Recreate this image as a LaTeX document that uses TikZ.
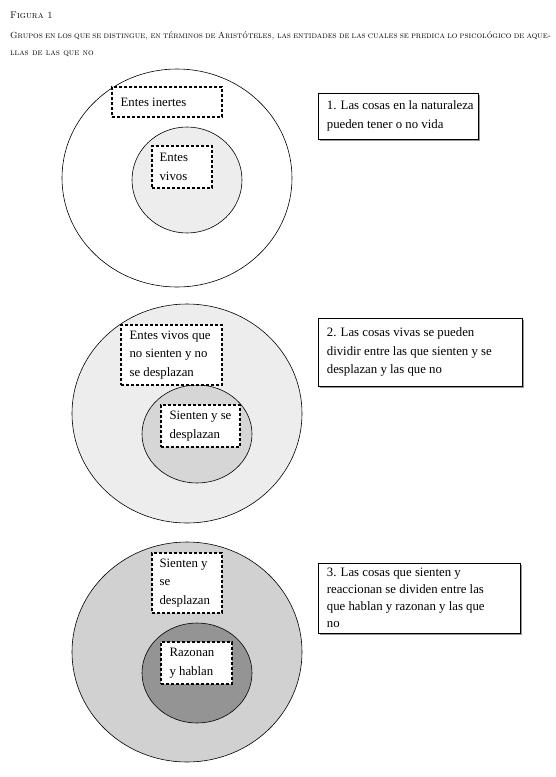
\documentclass[tikz,border=0pt]{standalone}
\usepackage{fontspec}
\newfontfamily\boxfont{Liberation Serif}
\usetikzlibrary{shadows,calc}
\begin{document}
\begin{tikzpicture}[x=1pt,y=-1pt,
  ring/.style={draw=black, line width=0.6pt},
  dbox/.style={draw=black, fill=white, line width=1.3pt, dash pattern=on 3.2pt off 1.8pt, inner sep=0pt},
  nbox/.style={draw=black, fill=white, line width=0.7pt, inner sep=0pt,
    drop shadow={shadow xshift=1.6pt, shadow yshift=-1.6pt, fill=black!40, opacity=1}},
  tx/.style={anchor=west, align=left, inner sep=0pt, font=\boxfont\fontsize{12.8}{18.5}\selectfont},
  ttl/.style={anchor=base west, inner sep=0pt, font=\fontsize{8.85}{12}\selectfont\scshape}
]
\useasboundingbox (0,0) rectangle (555,777);
% title
\node[ttl, font=\fontsize{9.6}{12}\selectfont\scshape] (t1) at (10,18) {Figura 1};
\node[ttl] (t2) at (10,38) {\makebox[535pt][s]{Grupos en los que se distingue, en términos de Aristóteles, las entidades de las cuales se predica lo psicológico de aque-}};
\node[ttl] (t3) at (10,55) {llas de las que no};

% panel 1
\draw[ring, fill=white] (177,178) ellipse [x radius=115pt, y radius=109pt];
\draw[ring, fill=black!7] (187,180) ellipse [x radius=55pt, y radius=53pt];
\node[dbox, minimum width=110pt, minimum height=30pt] (a1) at (167,102) {};
\node[tx] (a1t) at ($(a1.west)+(9,0)$) {Entes inertes};
\node[dbox, minimum width=60pt, minimum height=42pt] (a2) at (182,167) {};
\node[tx] (a2t) at ($(a2.west)+(8,0)$) {Entes\\vivos};
\node[nbox, minimum width=160pt, minimum height=46pt] (r1) at (398,116) {};
\node[tx] (r1t) at ($(r1.west)+(9,0)$) {1. Las cosas en la naturaleza\\pueden tener o no vida};

% panel 2
\draw[ring, fill=black!7] (187,413.5) ellipse [x radius=115pt, y radius=109.5pt];
\draw[ring, fill=black!16] (197,434) ellipse [x radius=55pt, y radius=49pt];
\node[dbox, minimum width=101pt, minimum height=60pt] (b1) at (171.5,355) {};
\node[tx] (b1t) at ($(b1.west)+(9,0)$) {Entes vivos que\\no sienten y no\\se desplazan};
\node[dbox, minimum width=79pt, minimum height=42pt] (b2) at (200.5,426) {};
\node[tx] (b2t) at ($(b2.west)+(9,0)$) {Sienten y se\\desplazan};
\node[nbox, minimum width=204pt, minimum height=68pt] (r2) at (420,352) {};
\node[tx] (r2t) at ($(r2.west)+(9,0)$) {2. Las cosas vivas se pueden\\dividir entre las que sienten y se\\desplazan y las que no};

% panel 3
\draw[ring, fill=black!18] (187,652) ellipse [x radius=115pt, y radius=110pt];
\draw[ring, fill=black!42] (197,673) ellipse [x radius=55pt, y radius=50pt];
\node[dbox, minimum width=70pt, minimum height=60pt] (c1) at (187,583) {};
\node[tx] (c1t) at ($(c1.west)+(8,0)$) {Sienten y\\se\\desplazan};
\node[dbox, minimum width=71pt, minimum height=42pt] (c2) at (196.5,663) {};
\node[tx] (c2t) at ($(c2.west)+(9,0)$) {Razonan\\y hablan};
\node[nbox, minimum width=202pt, minimum height=70pt] (r3) at (419,598) {};
\node[tx, font=\boxfont\fontsize{12.8}{17.2}\selectfont] (r3t) at ($(r3.west)+(9,0)$)
  {3. Las cosas que sienten y\\reaccionan se dividen entre las\\que hablan y razonan y las que\\no};
\end{tikzpicture}
\end{document}
